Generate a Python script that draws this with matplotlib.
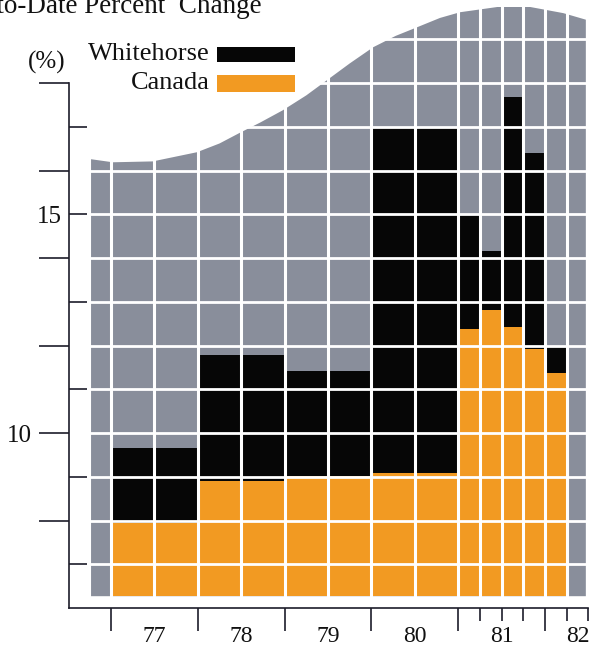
import matplotlib
matplotlib.use("Agg")
from matplotlib import pyplot as plt
from matplotlib.patches import Rectangle

plt.rcParams['font.family'] = ['Liberation Serif', 'DejaVu Serif']

# each period: start (decimal year) and length in years
period_start = [1977, 1978, 1979, 1980, 1981, 1981.25, 1981.5, 1981.75, 1982]
period_len = [1, 1, 1, 1, 0.25, 0.25, 0.25, 0.25, 0.25]

whitehorse = [9.65, 11.78, 11.41, 16.98, 14.98, 14.17, 17.68, 16.41, 11.98]
canada = [7.94, 8.90, 9.01, 9.09, 12.38, 12.81, 12.42, 11.92, 11.38]

year_labels = ["77", "78", "79", "80", "81", "82"]
year_label_x = [1977.5, 1978.5, 1979.5, 1980.5, 1981.5, 1982.38]

# top edge of the grey backdrop
panel_x = [1976.77, 1977.02, 1977.48, 1977.99, 1978.25, 1978.49, 1978.72, 1978.98,
           1979.25, 1979.49, 1979.75, 1980.02, 1980.28, 1980.53, 1980.79, 1981.02,
           1981.45, 1981.83, 1982.21, 1982.47]
panel_y = [16.26, 16.19, 16.21, 16.42, 16.62, 16.87, 17.10, 17.38,
           17.72, 18.07, 18.45, 18.82, 19.08, 19.28, 19.49, 19.62,
           19.74, 19.74, 19.60, 19.45]

BASE = 6.27
GREY = '#898e9b'
ORANGE = '#f29a22'
BLACK = '#060606'
INK = '#1c1c2a'
TEXT = '#111111'


def main():
    fig = plt.figure(figsize=(5.95, 6.5), dpi=100)
    ax = fig.add_axes([69 / 595, 42 / 650, (590 - 69) / 595, 608 / 650])
    ax.set_xlim(1976.516, 1982.518)
    ax.set_ylim(6.0, 19.9)

    ax.fill_between(panel_x, BASE, panel_y, facecolor=GREY, linewidth=0, zorder=1)

    x_mid = [s + w / 2 for s, w in zip(period_start, period_len)]
    ax.bar(x_mid, [v - BASE for v in whitehorse], width=period_len, bottom=BASE,
           color=BLACK, linewidth=0, zorder=2)
    ax.bar(x_mid, [v - BASE for v in canada], width=period_len, bottom=BASE,
           color=ORANGE, linewidth=0, zorder=3)

    # white cell grid, only over the backdrop so the axis ticks stay visible
    ax.hlines(range(7, 20), panel_x[0] - 0.02, panel_x[-1] + 0.02,
              color='white', lw=2.0, zorder=4)
    grid_x = [1977, 1977.5, 1978, 1978.5, 1979, 1979.5, 1980, 1980.5,
              1981, 1981.25, 1981.5, 1981.75, 1982, 1982.25]
    ax.vlines(grid_x, BASE - 0.05, 19.9, color='white', lw=2.2, zorder=4)

    for side in ['top', 'right']:
        ax.spines[side].set_visible(False)
    for side in ['left', 'bottom']:
        ax.spines[side].set_color(INK)
        ax.spines[side].set_linewidth(1.2)
        ax.spines[side].set_zorder(5)
    ax.spines['left'].set_bounds(6, 18)
    ax.spines['bottom'].set_bounds(1976.516, 1982.5)

    ax.set_yticks([8, 10, 12, 14, 16, 18], ['', '10', '', '', '', ''])
    ax.set_yticks([7, 9, 11, 13, 15, 17], ['', '', '', '', '15', ''], minor=True)
    ax.tick_params(axis='y', which='major', direction='out', length=21.5, width=1.2,
                   pad=5, labelsize=18, color=INK, labelcolor=TEXT)
    ax.tick_params(axis='y', which='minor', direction='in', length=13, width=1.2,
                   pad=5, labelsize=18, color=INK, labelcolor=TEXT)

    ax.set_xticks([1977, 1978, 1979, 1980, 1981, 1982], [])
    ax.set_xticks([1981.25, 1981.5, 1981.75, 1982.25, 1982.5], [], minor=True)
    ax.tick_params(axis='x', which='major', direction='out', length=16.5, width=1.2, color=INK)
    ax.tick_params(axis='x', which='minor', direction='out', length=9, width=1.2, color=INK)

    for lab, x in zip(year_labels, year_label_x):
        ax.annotate(lab, xy=(x, 0), xycoords=('data', 'axes fraction'),
                    xytext=(0, -20.2), textcoords='offset points',
                    ha='center', va='center', fontsize=17, color=TEXT)

    # header (runs off the left edge) and legend
    fig.text(262 / 595, 1 - 13 / 650, "Year-to-Date Percent  Change",
             ha='right', va='baseline', fontsize=19.5, color=TEXT)
    fig.text(47 / 595, 1 - 62 / 650, "(%)", ha='center', va='center',
             fontsize=18, color=TEXT)

    fig.text(210 / 595, 1 - 60 / 650, "Whitehorse", ha='right', va='baseline',
             fontsize=19, color=TEXT)
    fig.text(210 / 595, 1 - 89 / 650, "Canada", ha='right', va='baseline',
             fontsize=19, color=TEXT)
    fig.add_artist(Rectangle((217 / 595, 1 - 62 / 650), 78 / 595, 15 / 650,
                             transform=fig.transFigure, facecolor=BLACK, linewidth=0))
    fig.add_artist(Rectangle((217 / 595, 1 - 92 / 650), 78 / 595, 17 / 650,
                             transform=fig.transFigure, facecolor=ORANGE, linewidth=0))

    fig.savefig("out.png", dpi=100)


if __name__ == "__main__":
    main()
